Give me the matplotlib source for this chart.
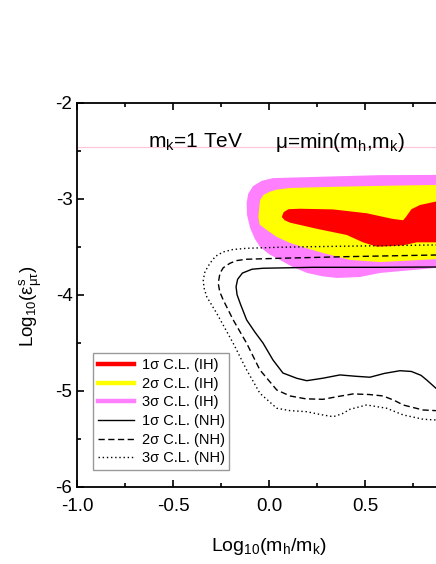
import matplotlib
matplotlib.use("Agg")
import matplotlib.pyplot as plt
from matplotlib.lines import Line2D

plt.rcParams['font.family'] = ['Liberation Sans', 'DejaVu Sans']
plt.rcParams['mathtext.default'] = 'regular'

# IH regions (closed outlines, x = log10(mh/mk), y = log10(eps))
ih3_x = [0.95, 0.868, 0.576, 0.30, 0.019, -0.040, -0.085, -0.110, -0.118, -0.116, -0.100,
         -0.075, -0.048, 0.000, 0.056, 0.120, 0.197, 0.280, 0.353, 0.472, 0.577, 0.748, 0.868, 0.95]
ih3_y = [-2.75, -2.753, -2.755, -2.77, -2.786, -2.815, -2.87, -2.95, -3.045, -3.17, -3.305,
         -3.42, -3.503, -3.58, -3.639, -3.71, -3.774, -3.81, -3.826, -3.816, -3.774, -3.743, -3.722, -3.72]

ih2_x = [0.95, 0.868, 0.60, 0.368, 0.108, 0.040, 0.004, -0.030, -0.048, -0.057, -0.050, -0.014,
         0.040, 0.108, 0.200, 0.280, 0.420, 0.576, 0.700, 0.868, 0.95]
ih2_y = [-2.855, -2.857, -2.866, -2.875, -2.889, -2.905, -2.927, -2.96, -3.014, -3.19, -3.27, -3.326,
         -3.40, -3.461, -3.52, -3.566, -3.638, -3.66, -3.648, -3.63, -3.63]

ih1_x = [0.95, 0.868, 0.785, 0.740, 0.712, 0.697, 0.640, 0.507, 0.332, 0.160, 0.100, 0.075, 0.065,
         0.080, 0.108, 0.250, 0.403, 0.488, 0.560, 0.629, 0.700, 0.768, 0.868, 0.95]
ih1_y = [-3.00, -3.03, -3.066, -3.110, -3.19, -3.225, -3.21, -3.152, -3.112, -3.105, -3.11, -3.14, -3.19,
         -3.225, -3.25, -3.315, -3.378, -3.455, -3.50, -3.495, -3.485, -3.455, -3.455, -3.45]

# NH contours (open lines, leave the plot at the right)
nh1_x = [0.95, 0.868, 0.576, 0.228, -0.033, -0.090, -0.140, -0.165, -0.173, -0.168, -0.150, -0.118,
         -0.075, -0.033, 0.019, 0.071, 0.143, 0.195, 0.280, 0.368, 0.450, 0.524, 0.600, 0.681, 0.740,
         0.790, 0.820, 0.868, 0.95]
nh1_y = [-3.71, -3.712, -3.715, -3.715, -3.725, -3.735, -3.775, -3.84, -3.917, -4.00, -4.10, -4.263,
         -4.39, -4.503, -4.68, -4.816, -4.871, -4.896, -4.87, -4.836, -4.85, -4.86, -4.82, -4.792, -4.80,
         -4.84, -4.889, -4.975, -5.07]

nh2_x = [0.95, 0.868, 0.403, 0.056, -0.118, -0.170, -0.205, -0.240, -0.257, -0.266, -0.258, -0.240,
         -0.188, -0.118, -0.049, 0.039, 0.108, 0.190, 0.280, 0.360, 0.436, 0.520, 0.592, 0.650, 0.697,
         0.800, 0.868, 0.95]
nh2_y = [-3.585, -3.587, -3.604, -3.621, -3.631, -3.645, -3.673, -3.72, -3.777, -3.881, -3.97, -4.055,
         -4.263, -4.506, -4.784, -4.993, -5.055, -5.085, -5.09, -5.06, -5.034, -5.04, -5.055, -5.10, -5.149,
         -5.201, -5.208, -5.21]

nh3_x = [0.95, 0.868, 0.228, 0.056, -0.118, -0.190, -0.240, -0.280, -0.309, -0.335, -0.344, -0.340,
         -0.326, -0.274, -0.188, -0.118, -0.049, 0.039, 0.108, 0.195, 0.270, 0.333, 0.380, 0.420, 0.507,
         0.611, 0.698, 0.802, 0.868, 0.95]
nh3_y = [-3.48, -3.482, -3.50, -3.506, -3.517, -3.53, -3.555, -3.60, -3.673, -3.76, -3.847, -3.93,
         -4.021, -4.194, -4.506, -4.784, -5.027, -5.183, -5.208, -5.219, -5.25, -5.271, -5.24, -5.194, -5.149,
         -5.183, -5.253, -5.298, -5.305, -5.31]

x_ticks = [-1.0, -0.5, 0.0, 0.5]
y_ticks = [-6, -5, -4, -3, -2]
legend_labels = ['1σ C.L. (IH)', '2σ C.L. (IH)', '3σ C.L. (IH)',
                 '1σ C.L. (NH)', '2σ C.L. (NH)', '3σ C.L. (NH)']

RED = '#ff0000'
YELLOW = '#ffff00'
MAGENTA = '#ff80ff'


def draw_regions(ax):
    """filled IH regions and NH contour lines"""
    ax.fill(ih3_x, ih3_y, color=MAGENTA, lw=0)
    ax.fill(ih2_x, ih2_y, color=YELLOW, lw=0)
    ax.fill(ih1_x, ih1_y, color=RED, lw=0)
    ax.plot(nh1_x, nh1_y, color='black', lw=1.0, ls='-')
    ax.plot(nh2_x, nh2_y, color='black', lw=1.0, ls=(0, (4.5, 2.5)))
    ax.plot(nh3_x, nh3_y, color='black', lw=1.0, ls=(0, (1, 2)))


def style_axes(ax):
    ax.set_xlim(-1.0, 1.0)
    ax.set_ylim(-6, -2)
    ax.set_xticks(x_ticks)
    ax.set_xticklabels(['%.1f' % v for v in x_ticks])
    ax.set_yticks(y_ticks)
    ax.set_yticklabels(['%d' % v for v in y_ticks])
    ax.set_xticks([-0.75, -0.25, 0.25, 0.75], minor=True)
    ax.set_yticks([-5.5, -4.5, -3.5, -2.5], minor=True)
    ax.tick_params(which='both', direction='in', top=True, right=True, labelsize=13.5)
    ax.tick_params(which='major', length=5, width=1.2)
    ax.tick_params(which='minor', length=3, width=1.2)
    ax.tick_params(axis='x', pad=8)
    ax.tick_params(axis='y', pad=3.5)
    for sp in ax.spines.values():
        sp.set_linewidth(1.3)

    ax.set_xlabel(r'Log$_{10}$(m$_h$/m$_k$)', fontsize=14)
    ax.set_ylabel(r'Log$_{10}$(ε$^{s}_{μτ}$)', fontsize=13.5)
    ax.xaxis.set_label_coords(0.5, -0.128)
    ax.yaxis.set_label_coords(-0.088, 0.47)


fig = plt.figure(figsize=(4.36, 5.64), dpi=100)
ax = fig.add_axes([0.1773, 0.1371, 0.8807, 0.6809])

# faint pink guide line behind the labels
ax.axhline(-2.458, color='#ffc4d6', lw=0.8, zorder=0)

draw_regions(ax)
style_axes(ax)

ax.text(-0.632, -2.47, r'm$_k$=1 TeV', fontsize=15, va='baseline')
ax.text(0.03, -2.47, r'μ=min(m$_h$,m$_k$)', fontsize=15, va='baseline')

handles = [Line2D([], [], color=RED, lw=3.2),
           Line2D([], [], color=YELLOW, lw=3.2),
           Line2D([], [], color=MAGENTA, lw=3.2),
           Line2D([], [], color='black', lw=1.0, ls='-'),
           Line2D([], [], color='black', lw=1.0, ls=(0, (4.5, 2.5))),
           Line2D([], [], color='black', lw=1.0, ls=(0, (1, 2)))]
leg = ax.legend(handles, legend_labels, loc='lower left', bbox_to_anchor=(0.0417, 0.0435),
                borderaxespad=0, fontsize=10.5, frameon=True, fancybox=False,
                handlelength=2.5, handletextpad=0.5, labelspacing=0.32, borderpad=0.32)
leg.get_frame().set_edgecolor('#808080')
leg.get_frame().set_linewidth(1.0)

fig.savefig('out.png', dpi=100)
